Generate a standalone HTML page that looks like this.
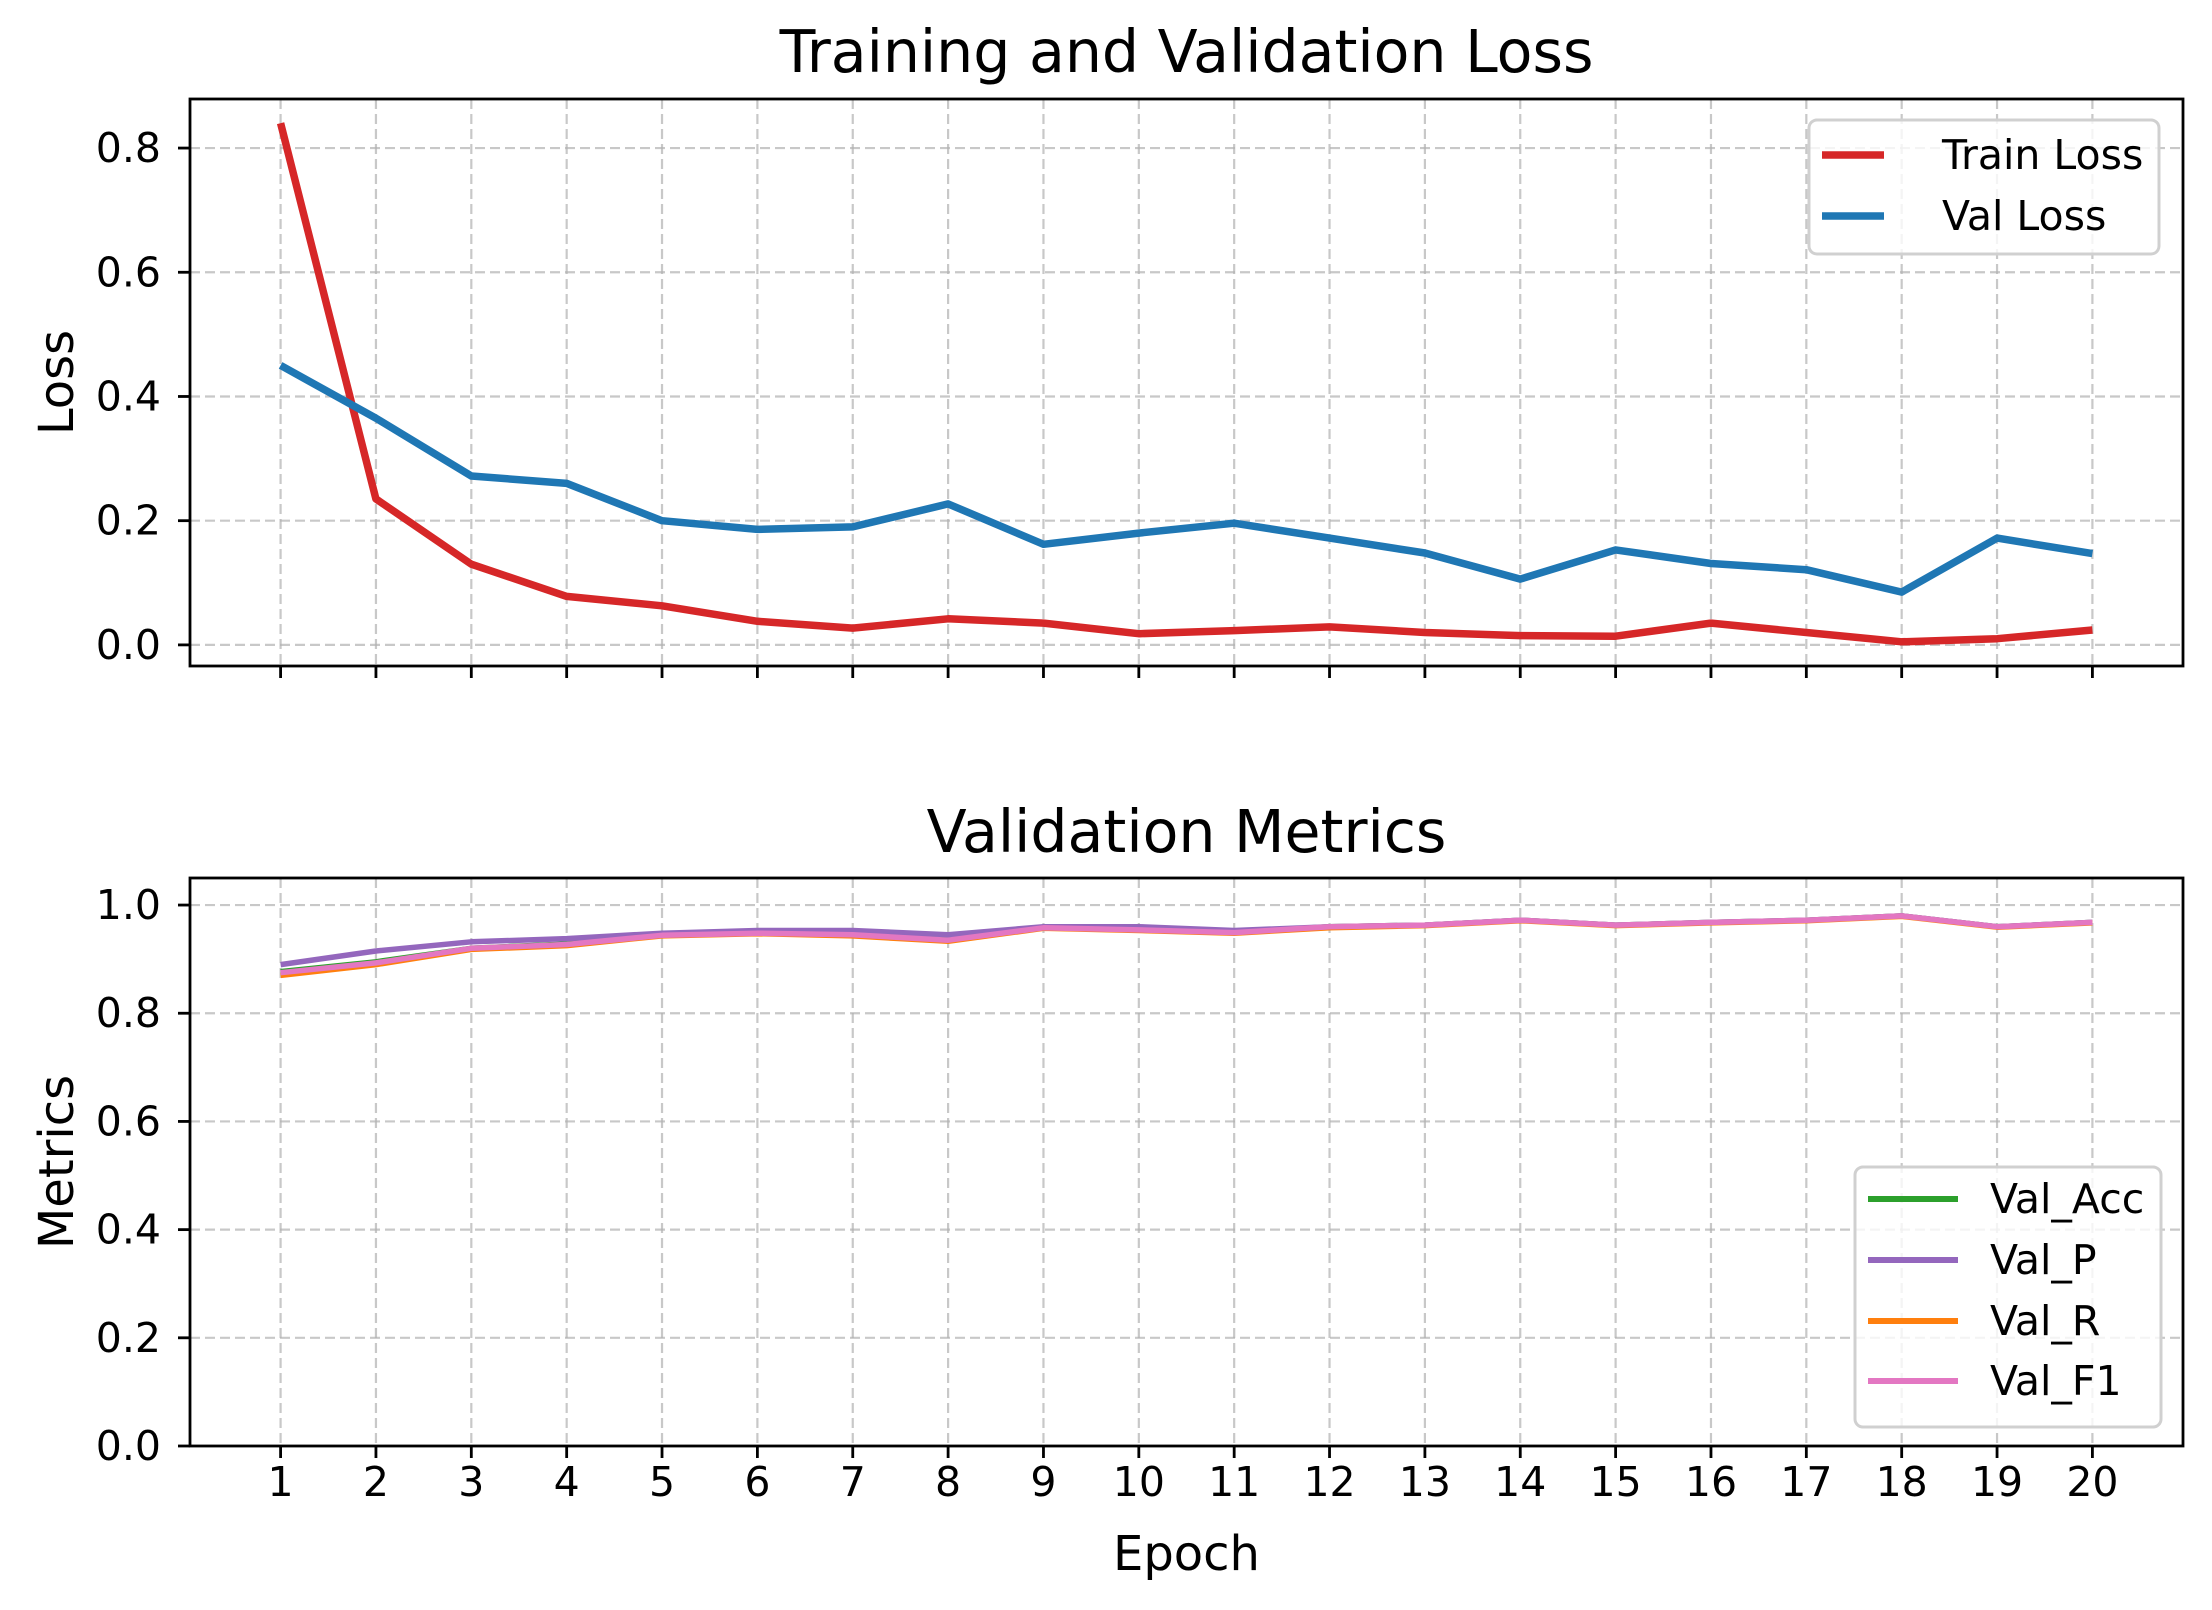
<!DOCTYPE html>
<html><head><meta charset="utf-8"><style>
html,body{margin:0;padding:0;background:#fff;}
svg{display:block;font-family:"DejaVu Sans","Liberation Sans",sans-serif;}
</style></head><body>
<svg id="chart" width="2212" height="1610" viewBox="0 0 2212 1610" xmlns="http://www.w3.org/2000/svg"></svg>
<script>
const epochs = [1,2,3,4,5,6,7,8,9,10,11,12,13,14,15,16,17,18,19,20];
const trainLoss = [0.84,0.235,0.13,0.078,0.063,0.038,0.027,0.042,0.035,0.018,0.023,0.029,0.02,0.015,0.014,0.035,0.02,0.005,0.01,0.024];
const valLoss = [0.45,0.365,0.272,0.26,0.2,0.186,0.19,0.227,0.162,0.18,0.196,0.172,0.148,0.106,0.153,0.131,0.121,0.085,0.172,0.147];
const valAcc = [0.877,0.895,0.92,0.928,0.945,0.948,0.947,0.937,0.958,0.955,0.95,0.96,0.963,0.972,0.963,0.968,0.972,0.98,0.96,0.968];
const valP = [0.89,0.915,0.932,0.938,0.948,0.953,0.953,0.945,0.96,0.96,0.953,0.96,0.963,0.972,0.963,0.968,0.972,0.98,0.96,0.968];
const valR = [0.87,0.89,0.918,0.925,0.943,0.947,0.943,0.933,0.957,0.953,0.948,0.958,0.962,0.971,0.962,0.967,0.971,0.979,0.959,0.967];
const valF1 = [0.875,0.893,0.92,0.927,0.944,0.948,0.945,0.935,0.958,0.954,0.949,0.96,0.963,0.972,0.963,0.968,0.972,0.98,0.96,0.968];
const lossTicks = [0,0.2,0.4,0.6,0.8];
const lossTickLabels = ["0.0","0.2","0.4","0.6","0.8"];
const metricTicks = [0,0.2,0.4,0.6,0.8,1.0];
const metricTickLabels = ["0.0","0.2","0.4","0.6","0.8","1.0"];

const NS="http://www.w3.org/2000/svg";
const svg=document.getElementById('chart');
function mk(tag,attrs,parent,text){const e=document.createElementNS(NS,tag);for(const k in attrs)e.setAttribute(k,attrs[k]);if(text!==undefined)e.textContent=text;(parent||svg).appendChild(e);return e;}

const L=190,R=2183;
const xMin=0.05,xMax=20.95;
function xs(v){return L+(v-xMin)/(xMax-xMin)*(R-L);}

function panel(name,top,bot,yMin,yMax,ticks,tickLabels,title,titleY,ylabel,showXLabels){
  const g=mk('g',{});
  
  
  const ys=v=>bot-(v-yMin)/(yMax-yMin)*(bot-top);
  epochs.forEach(e=>{const l=mk('line',{x1:xs(e),x2:xs(e),y1:top,y2:bot,stroke:'#b0b0b0','stroke-opacity':0.7,'stroke-width':2.2,'stroke-dasharray':'10 5'},g);
    });
  ticks.forEach((t,i)=>{const l=mk('line',{x1:L,x2:R,y1:ys(t),y2:ys(t),stroke:'#b0b0b0','stroke-opacity':0.7,'stroke-width':2.2,'stroke-dasharray':'10 5'},g);
    
    const tk=mk('line',{x1:L-12,x2:L,y1:ys(t),y2:ys(t),stroke:'#000','stroke-width':2.8},g);
    
    const tl=mk('text',{x:L-29,y:ys(t)+14,'text-anchor':'end','font-size':41,fill:'#000'},g,tickLabels[i]);
    
  });
  epochs.forEach(e=>{const tk=mk('line',{x1:xs(e),x2:xs(e),y1:bot,y2:bot+12,stroke:'#000','stroke-width':2.8},g);
    
    if(showXLabels){const tl=mk('text',{x:xs(e),y:bot+50,'text-anchor':'middle','font-size':41,fill:'#000'},g,String(e));
      }
  });
  const t=mk('text',{x:(L+R)/2,y:titleY,'text-anchor':'middle','font-size':58.5,fill:'#000'},g,title);
  
  const cy=(top+bot)/2;
  const yl=mk('text',{x:0,y:0,transform:`translate(73,${cy}) rotate(-90)`,'text-anchor':'middle','font-size':48,fill:'#000'},g,ylabel);
  
  return {g,ys,top,bot};
}
function series(p,vals,color,w,name){
  const d=vals.map((v,i)=>(i?'L':'M')+xs(epochs[i]).toFixed(1)+' '+p.ys(v).toFixed(1)).join(' ');
  const path=mk('path',{d,fill:'none',stroke:color,'stroke-width':w,'stroke-linejoin':'round','stroke-linecap':'butt'},p.g);
  
  
}
function frame(p){const r=mk('rect',{x:L,y:p.top,width:R-L,height:p.bot-p.top,fill:'none',stroke:'#000','stroke-width':2.8},p.g);
  }
function legend(p,x,y,w,h,items,lx1,lx2,tx,rows,w2){
  const lg=mk('g',{},p.g);
  
  mk('rect',{x,y,width:w,height:h,rx:8,fill:'#fff','fill-opacity':0.8,stroke:'#d0d0d0','stroke-width':3},lg);
  items.forEach((it,i)=>{const e=mk('g',{},lg);
    
    mk('line',{x1:lx1,x2:lx2,y1:rows[i],y2:rows[i],stroke:it[1],'stroke-width':w2},e);
    mk('text',{x:tx,y:rows[i]+14,'font-size':41,fill:'#000'},e,it[0]);});
}

const p1=panel('loss-panel',99,666,-0.034,0.879,lossTicks,lossTickLabels,'Training and Validation Loss',72,'Loss',false);
series(p1,trainLoss,'#d62728',7.5,'train-loss-line');
series(p1,valLoss,'#1f77b4',7.5,'val-loss-line');
frame(p1);
legend(p1,1809,120,350,134,[['Train Loss','#d62728'],['Val Loss','#1f77b4']],1822,1884,1942,[155,216],7.5);

const p2=panel('metrics-panel',878,1446,0,1.05,metricTicks,metricTickLabels,'Validation Metrics',852,'Metrics',true);
series(p2,valAcc,'#2ca02c',5.5,'val-acc-line');
series(p2,valP,'#9467bd',5.5,'val-p-line');
series(p2,valR,'#ff7f0e',5.5,'val-r-line');
series(p2,valF1,'#e377c2',5.5,'val-f1-line');
frame(p2);
legend(p2,1855,1167,306,260,[['Val_Acc','#2ca02c'],['Val_P','#9467bd'],['Val_R','#ff7f0e'],['Val_F1','#e377c2']],1868,1958,1990,[1199,1260,1321,1381],6);

const xt=mk('text',{x:(L+R)/2,y:1570,'text-anchor':'middle','font-size':48,fill:'#000'},svg,'Epoch');


</script>
</body></html>
